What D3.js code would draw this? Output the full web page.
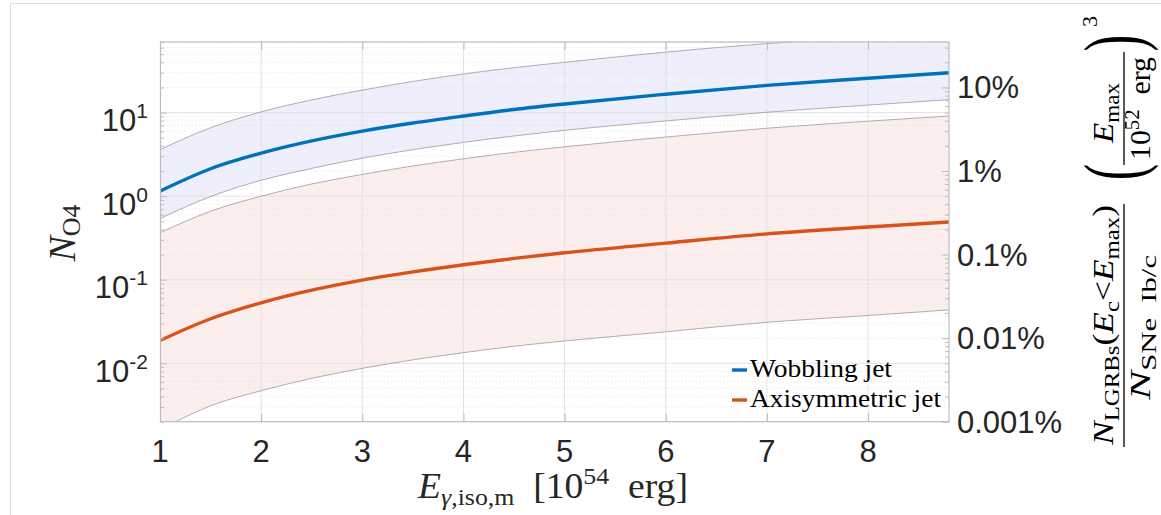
<!DOCTYPE html>
<html><head><meta charset="utf-8">
<script src="https://cdn.jsdelivr.net/npm/d3@7"></script>
<style>body{margin:0;background:#fff;} svg{display:block;}</style>
</head><body><svg id="chart" width="1161" height="515"></svg>
<script>
// ---- data ----
const energy        = [1, 1.5, 2, 2.5, 3, 3.5, 4, 4.5, 5, 6, 7, 8, 8.8];
const wobbling      = [1.15, 2.13, 3.27, 4.58, 6.0, 7.5, 9.1, 10.9, 12.7, 16.6, 21.2, 25.8, 30.0];
const wobblingHigh  = [3.6, 6.6, 10.2, 14.2, 18.6, 23.6, 29.0, 34.5, 40, 53, 67, 81, 94];
const wobblingLow   = [0.54, 0.99, 1.55, 2.15, 2.85, 3.6, 4.4, 5.25, 6.15, 7.95, 10.1, 12.3, 14.3];
const axisym        = [0.0187, 0.0341, 0.053, 0.075, 0.099, 0.124, 0.151, 0.18, 0.21, 0.274, 0.354, 0.427, 0.49];
const axisymHigh    = [0.365, 0.66, 1.0, 1.4, 1.82, 2.3, 2.8, 3.35, 3.9, 5.1, 6.5, 7.9, 9.1];
const axisymLow     = [0.0016, 0.0031, 0.0047, 0.0066, 0.0087, 0.011, 0.0134, 0.016, 0.0185, 0.0238, 0.031, 0.0373, 0.0436];
const xTicks        = [1, 2, 3, 4, 5, 6, 7, 8];
const yTickExps     = [-2, -1, 0, 1];
const rightTickValues = [1e-5, 1e-4, 1e-3, 1e-2, 1e-1];
const rightTickLabels = ["0.001%", "0.01%", "0.1%", "1%", "10%"];
const seriesNames   = ["Wobbling jet", "Axisymmetric jet"];
const seriesColors  = ["#0072BD", "#D95319"];

const svg = d3.select("#chart");
const L = 160, R = 949, T = 42, B = 421.7;
const x = d3.scaleLinear().domain([1, 8.8]).range([L, R]);
const y = d3.scaleLog().domain([0.002, 70]).range([B, T]);
const yR = d3.scaleLog().domain([1e-5, 0.35]).range([B, T]);
const txt = "#262626", axc = "#bcbcbc";
const sans = "'Liberation Sans', Arial, Helvetica, sans-serif";
const serif = "'Liberation Serif', 'Times New Roman', serif";

// outer frame
svg.append("line").attr("x1", 10).attr("y1", 3.5).attr("x2", 1161).attr("y2", 3.5).attr("stroke", "#dcdcdc");
svg.append("line").attr("x1", 10.5).attr("y1", 3).attr("x2", 10.5).attr("y2", 515).attr("stroke", "#dcdcdc");

svg.append("defs").append("clipPath").attr("id", "clip")
  .append("rect").attr("x", L).attr("y", T).attr("width", R - L).attr("height", B - T);

const plot = svg.append("g").attr("clip-path", "url(#clip)");
const rows = (c, h, l) => energy.map((e, i) => ({ e, c: c[i], h: h[i], l: l[i] }));
const wob = rows(wobbling, wobblingHigh, wobblingLow);
const axi = rows(axisym, axisymHigh, axisymLow);

const area = d3.area().x(d => x(d.e)).y0(d => y(d.l)).y1(d => y(d.h)).curve(d3.curveMonotoneX);
const lineC = d3.line().x(d => x(d.e)).y(d => y(d.c)).curve(d3.curveMonotoneX);
const lineH = d3.line().x(d => x(d.e)).y(d => y(d.h)).curve(d3.curveMonotoneX);
const lineL = d3.line().x(d => x(d.e)).y(d => y(d.l)).curve(d3.curveMonotoneX);

plot.append("path").datum(wob).attr("d", area).attr("fill", "rgb(0,0,230)").attr("fill-opacity", 0.065);
plot.append("path").datum(axi).attr("d", area).attr("fill", "rgb(230,0,0)").attr("fill-opacity", 0.065);

// grid
const allY = y.ticks().filter(v => v >= 0.002 && v <= 70);
const isMajor = v => Math.abs(Math.log10(v) - Math.round(Math.log10(v))) < 1e-9;
plot.selectAll(".gmin").data(allY.filter(v => !isMajor(v))).join("line")
  .attr("x1", L).attr("x2", R).attr("y1", d => y(d)).attr("y2", d => y(d))
  .attr("stroke", "#e4e4e4").attr("stroke-width", 0.7).attr("stroke-dasharray", "1.5,2");
plot.selectAll(".gmaj").data(allY.filter(isMajor)).join("line")
  .attr("x1", L).attr("x2", R).attr("y1", d => y(d)).attr("y2", d => y(d))
  .attr("stroke", "#e2e2e2").attr("stroke-width", 1);
plot.selectAll(".gx").data(xTicks).join("line")
  .attr("x1", d => x(d)).attr("x2", d => x(d)).attr("y1", T).attr("y2", B)
  .attr("stroke", "#e2e2e2").attr("stroke-width", 1);

// band edges
[wob, axi].forEach(s => {
  plot.append("path").datum(s).attr("d", lineH).attr("fill", "none").attr("stroke", "#9a9a9a").attr("stroke-width", 0.8);
  plot.append("path").datum(s).attr("d", lineL).attr("fill", "none").attr("stroke", "#9a9a9a").attr("stroke-width", 0.8);
});
// central lines
plot.append("path").datum(wob).attr("d", lineC).attr("fill", "none").attr("stroke", seriesColors[0]).attr("stroke-width", 3.4);
plot.append("path").datum(axi).attr("d", lineC).attr("fill", "none").attr("stroke", seriesColors[1]).attr("stroke-width", 3.4);

// axes (tick marks via d3.axis)
function styleAxis(g) {
  g.select(".domain").remove();
  g.selectAll(".tick line").attr("stroke", axc);
  g.selectAll(".tick text").remove();
}
const yMinor = allY.filter(v => !isMajor(v));
const yMajor = allY.filter(isMajor);
svg.append("g").attr("transform", `translate(${L},0)`).call(d3.axisLeft(y).tickValues(yMinor).tickSize(-4)).call(styleAxis);
svg.append("g").attr("transform", `translate(${L},0)`).call(d3.axisLeft(y).tickValues(yMajor).tickSize(-7)).call(styleAxis);
const rAll = yR.ticks().filter(v => v >= 1e-5 && v <= 0.35);
const rMaj = rAll.filter(isMajor), rMin = rAll.filter(v => !isMajor(v));
svg.append("g").attr("transform", `translate(${R},0)`).call(d3.axisRight(yR).tickValues(rMin).tickSize(-4)).call(styleAxis);
svg.append("g").attr("transform", `translate(${R},0)`).call(d3.axisRight(yR).tickValues(rMaj).tickSize(-7)).call(styleAxis);
svg.append("g").attr("transform", `translate(0,${B})`).call(d3.axisBottom(x).tickValues(xTicks).tickSize(-8)).call(styleAxis);
svg.append("g").attr("transform", `translate(0,${T})`).call(d3.axisTop(x).tickValues(xTicks).tickSize(-8)).call(styleAxis);
svg.append("rect").attr("x", L + 0.5).attr("y", T).attr("width", R - L - 0.5).attr("height", B - T)
  .attr("fill", "none").attr("stroke", axc).attr("stroke-width", 1.2);

// tick labels
const fs = 31;
svg.selectAll(".xl").data(xTicks).join("text")
  .attr("x", d => x(d)).attr("y", 461.5).attr("text-anchor", "middle")
  .attr("font-family", sans).attr("font-size", fs).attr("fill", txt).text(d => d);
yTickExps.forEach(e => {
  const t = svg.append("text").attr("x", 148).attr("y", y(Math.pow(10, e)) + 18.5)
    .attr("text-anchor", "end").attr("font-family", sans).attr("font-size", fs).attr("fill", txt);
  t.append("tspan").text("10");
  t.append("tspan").attr("dy", -13).attr("font-size", 21).text(e);
});
svg.selectAll(".rl").data(rightTickValues).join("text")
  .attr("x", 957).attr("y", (d) => yR(d) + 11).attr("font-family", sans).attr("font-size", fs).attr("fill", txt)
  .text((d, i) => rightTickLabels[i]);

// legend
seriesNames.forEach((n, i) => {
  const yy = 370 + i * 30;
  svg.append("line").attr("x1", 732).attr("x2", 747).attr("y1", yy).attr("y2", yy)
    .attr("stroke", seriesColors[i]).attr("stroke-width", 3.4);
  svg.append("text").attr("x", 750).attr("y", yy + 7).attr("font-family", serif).attr("font-size", 26)
    .attr("fill", "#000").attr("textLength", i === 0 ? 142 : 191).attr("lengthAdjust", "spacingAndGlyphs").text(n);
});

// x-axis label
{
  const t = svg.append("text").attr("x", 418).attr("y", 498).attr("font-family", serif).attr("font-size", 35)
    .attr("fill", txt).attr("textLength", 270).attr("lengthAdjust", "spacingAndGlyphs");
  t.append("tspan").attr("font-style", "italic").text("E");
  t.append("tspan").attr("dy", 7).attr("font-size", 24).attr("font-style", "italic").text("γ");
  t.append("tspan").attr("font-size", 24).text(",iso,m");
  t.append("tspan").attr("dy", -7).text("\u2002[10");
  t.append("tspan").attr("dy", -14).attr("font-size", 24).text("54");
  t.append("tspan").attr("dy", 14).text("\u2002erg]");
}

// left y label
{
  const g = svg.append("g").attr("transform", "translate(75,233) rotate(-90)");
  const t = g.append("text").attr("text-anchor", "middle").attr("font-family", serif).attr("font-size", 38).attr("fill", txt);
  t.append("tspan").attr("font-style", "italic").text("N");
  t.append("tspan").attr("dy", 5).attr("font-size", 26).text("O4");
}

// right y label
{
  const g = svg.append("g").attr("transform", "translate(1124,0) rotate(-90)");
  const n1 = g.append("text").attr("x", -445).attr("y", -11).attr("font-family", serif).attr("font-size", 30)
    .attr("fill", "#000").attr("textLength", 240).attr("lengthAdjust", "spacingAndGlyphs");
  n1.append("tspan").attr("font-style", "italic").text("N");
  n1.append("tspan").attr("dy", 6).attr("font-size", 21).text("LGRBs");
  n1.append("tspan").attr("dy", -6).text("(");
  n1.append("tspan").attr("font-style", "italic").text("E");
  n1.append("tspan").attr("dy", 6).attr("font-size", 21).text("c");
  n1.append("tspan").attr("dy", -6).text("<");
  n1.append("tspan").attr("font-style", "italic").text("E");
  n1.append("tspan").attr("dy", 6).attr("font-size", 21).text("max");
  n1.append("tspan").attr("dy", -6).text(")");
  g.append("line").attr("x1", -447).attr("x2", -204).attr("y1", 0).attr("y2", 0).attr("stroke", "#000").attr("stroke-width", 1.3);
  const d1 = g.append("text").attr("x", -400).attr("y", 26).attr("font-family", serif).attr("font-size", 30)
    .attr("fill", "#000").attr("textLength", 145).attr("lengthAdjust", "spacingAndGlyphs");
  d1.append("tspan").attr("font-style", "italic").text("N");
  d1.append("tspan").attr("dy", 6).attr("font-size", 21).text("SNe\u2002Ib/c");

  g.append("text").attr("transform", "translate(-172,17) scale(0.6,1)").attr("text-anchor", "middle")
    .attr("font-family", serif).attr("font-size", 82).attr("fill", "#000").text("(");
  const n2 = g.append("text").attr("x", -143).attr("y", -11).attr("font-family", serif).attr("font-size", 30)
    .attr("fill", "#000").attr("textLength", 60).attr("lengthAdjust", "spacingAndGlyphs");
  n2.append("tspan").attr("font-style", "italic").text("E");
  n2.append("tspan").attr("dy", 6).attr("font-size", 21).text("max");
  g.append("line").attr("x1", -165).attr("x2", -52).attr("y1", 0).attr("y2", 0).attr("stroke", "#000").attr("stroke-width", 1.3);
  const d2 = g.append("text").attr("x", -160).attr("y", 26).attr("font-family", serif).attr("font-size", 30)
    .attr("fill", "#000").attr("textLength", 103).attr("lengthAdjust", "spacingAndGlyphs");
  d2.append("tspan").text("10");
  d2.append("tspan").attr("dy", -11).attr("font-size", 21).text("52");
  d2.append("tspan").attr("dy", 11).text("\u2002erg");
  g.append("text").attr("transform", "translate(-43,17) scale(0.6,1)").attr("text-anchor", "middle")
    .attr("font-family", serif).attr("font-size", 82).attr("fill", "#000").text(")");
  g.append("text").attr("x", -27).attr("y", -27).attr("font-family", serif).attr("font-size", 22).attr("fill", "#000").text("3");
}
</script></body></html>
